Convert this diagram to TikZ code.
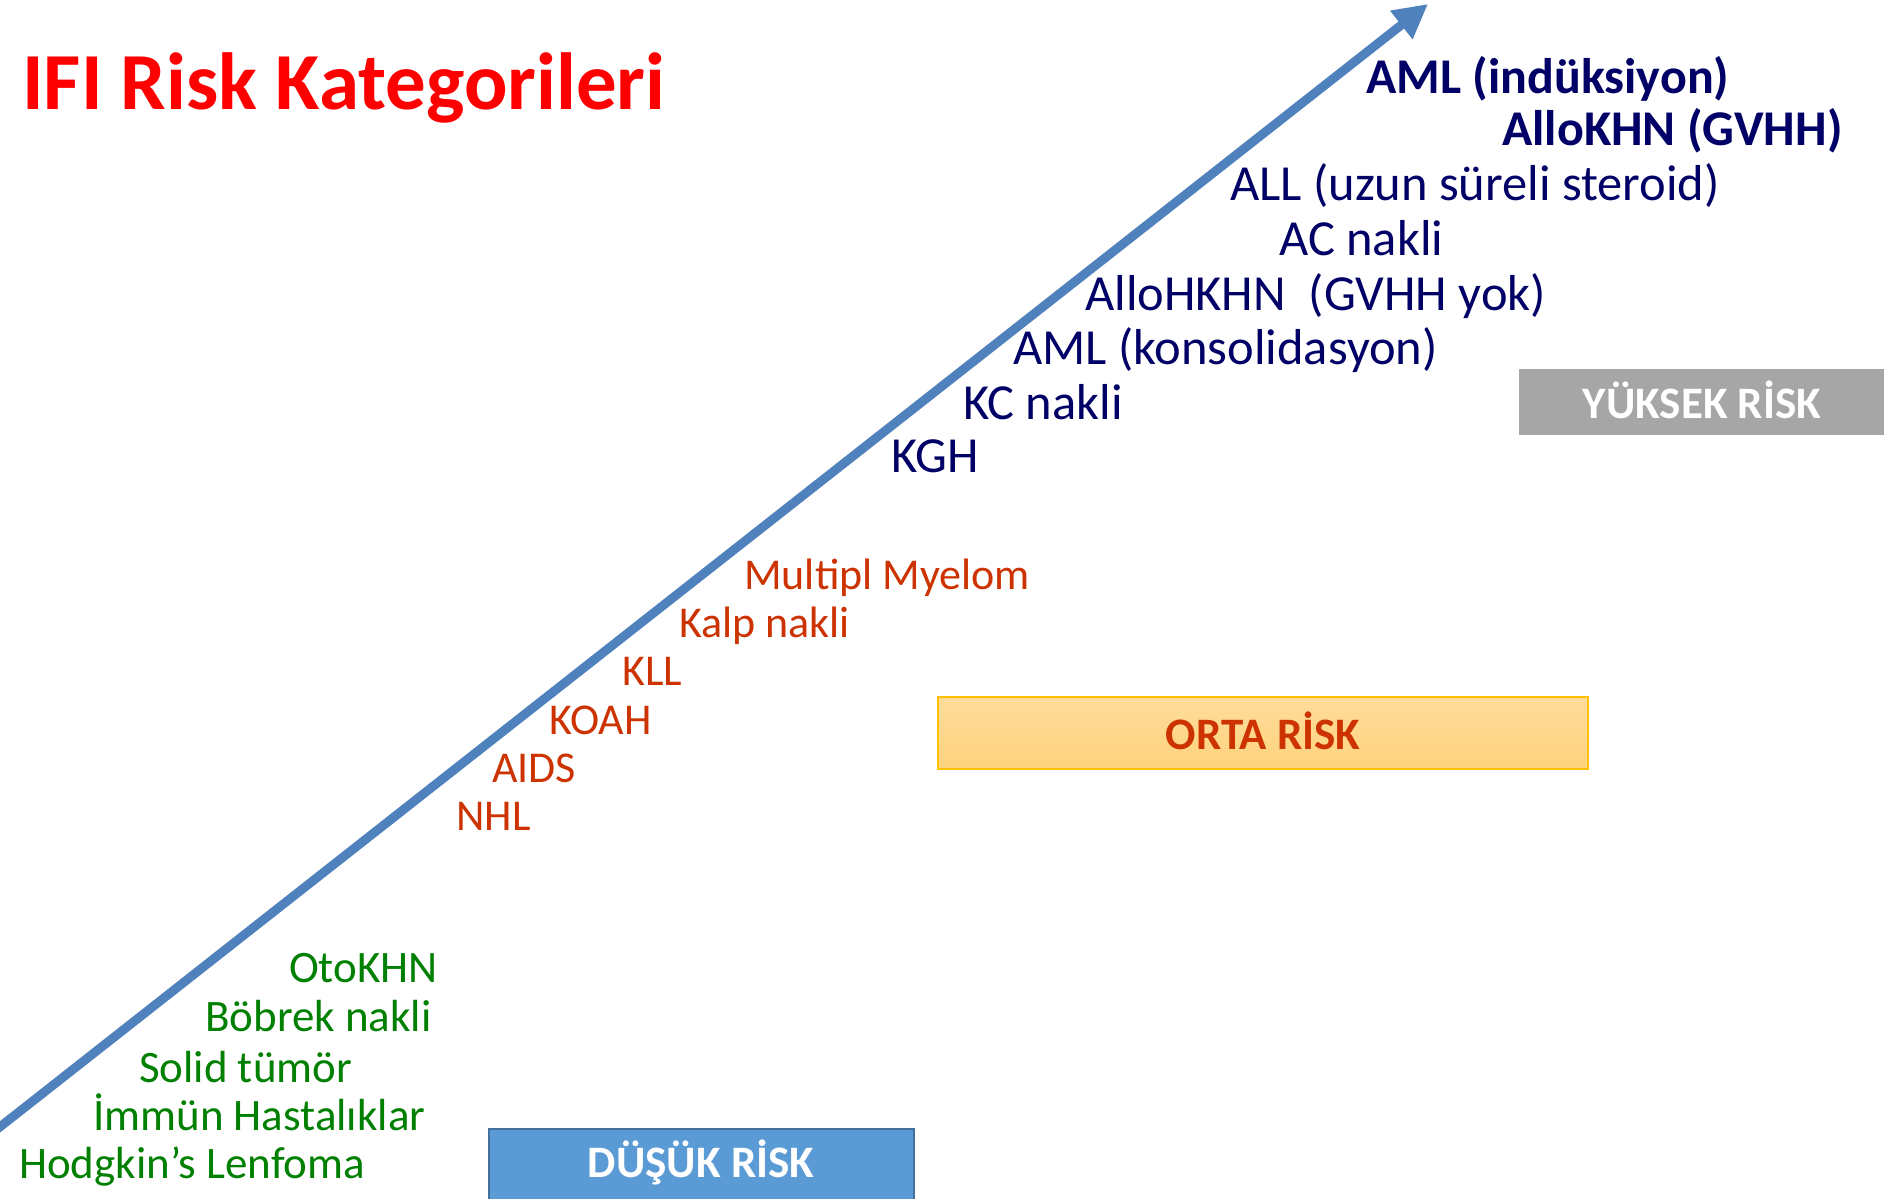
\documentclass[tikz,border=0pt]{standalone}
\usepackage{fontspec}
\setmainfont{Carlito}
\usetikzlibrary{arrows.meta}
\definecolor{navy}{RGB}{0,0,102}
\definecolor{rust}{RGB}{204,51,0}
\definecolor{grn}{RGB}{0,128,0}
\definecolor{arrowblue}{RGB}{79,129,189}
\definecolor{lowfill}{RGB}{91,155,213}
\definecolor{lowdraw}{RGB}{65,113,156}
\definecolor{midtop}{RGB}{255,220,155}
\definecolor{midbot}{RGB}{255,211,125}
\definecolor{middraw}{RGB}{255,192,0}
\definecolor{highfill}{RGB}{166,166,166}
\tikzset{
  lbl/.style={anchor=base west,inner sep=0pt,font=\fontsize{50.5}{60}\selectfont},
  hi/.style={lbl,text=navy},
  hib/.style={lbl,text=navy,font=\fontsize{50}{60}\selectfont\bfseries},
  mid/.style={lbl,text=rust,font=\fontsize{44}{52}\selectfont},
  low/.style={lbl,text=grn,font=\fontsize{45}{54}\selectfont},
  boxtxt/.style={font=\fontsize{45}{54}\selectfont\bfseries}
}
\begin{document}
\begin{tikzpicture}[x=1pt,y=-1pt]
\useasboundingbox (0,0) rectangle (1895,1199);
\fill[white] (0,0) rectangle (1895,1199);
% title
\node[anchor=base west,inner sep=0pt,text={rgb,255:red,255;green,0;blue,0},font=\fontsize{81}{96}\selectfont\bfseries] (title) at (22,110) {IFI Risk Kategorileri};
% arrow
\coordinate (start) at (-4,1130);
\coordinate (tip) at (1428,4);
\draw[arrowblue,line width=9pt,-{Triangle[length=34pt,width=34pt]}] (start) -- (tip);
% boxes
\draw[draw=lowdraw,fill=lowfill,line width=2pt] (489,1129) rectangle (914,1205);
\node[boxtxt,text=white] (low) at (701,1162) {DÜŞÜK RİSK};
\shade[top color=midtop,bottom color=midbot] (938,697) rectangle (1588,769);
\draw[middraw,line width=1.5pt] (938,697) rectangle (1588,769);
\node[boxtxt,text=rust] (mid) at (1263,731) {ORTA RİSK};
\fill[highfill] (1519,369) rectangle (1884,435);
\node[boxtxt,text=white] (high) at (1702,400) {YÜKSEK RİSK};
% high risk labels
\node[hib] (h1) at (1366,93) {AML (indüksiyon)};
\node[hib] (h2) at (1502,145) {AlloKHN (GVHH)};
\node[hi] (h3) at (1230,200) {ALL (uzun süreli steroid)};
\node[hi] (h4) at (1279,255) {AC nakli};
\node[hi] (h5) at (1085,310) {AlloHKHN\ \ (GVHH yok)};
\node[hi] (h6) at (1013,364) {AML (konsolidasyon)};
\node[hi] (h7) at (963,419) {KC nakli};
\node[hi] (h8) at (891,472) {KGH};
% mid risk labels
\node[mid] (m1) at (744,589) {Multipl Myelom};
\node[mid] (m2) at (679,637) {Kalp nakli};
\node[mid] (m3) at (622,685) {KLL};
\node[mid] (m4) at (549,734) {KOAH};
\node[mid] (m5) at (492,782) {AIDS};
\node[mid] (m6) at (456,830) {NHL};
% low risk labels
\node[low] (l1) at (289,982) {OtoKHN};
\node[low] (l2) at (205,1031) {Böbrek nakli};
\node[low] (l3) at (139,1082) {Solid tümör};
\node[low] (l4) at (93,1130) {İmmün Hastalıklar};
\node[low] (l5) at (19,1178) {Hodgkin’s Lenfoma};
\end{tikzpicture}
\end{document}
